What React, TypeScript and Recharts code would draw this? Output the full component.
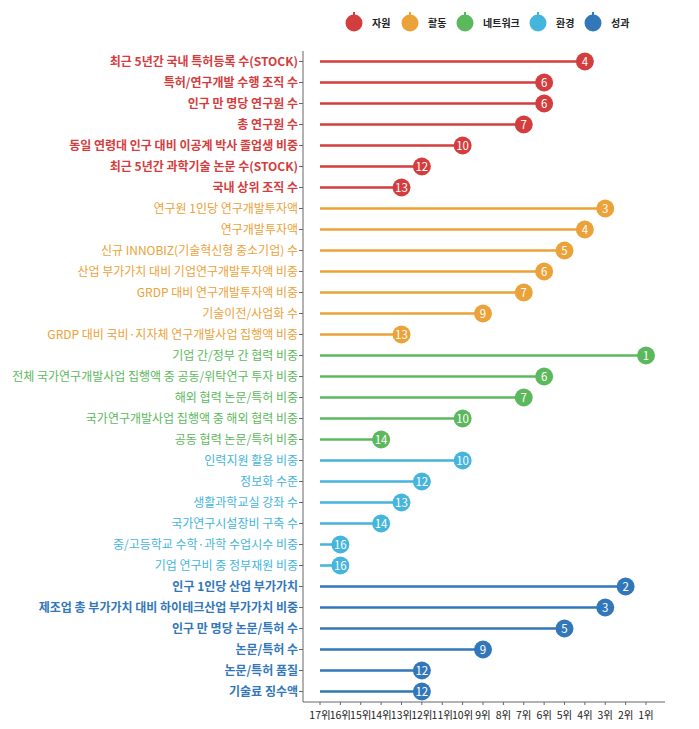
import { Bar, BarChart, XAxis, YAxis } from "recharts";

const FONT = "'Noto Sans CJK KR', 'Noto Sans', sans-serif";

const GROUP_NAMES = ["자원", "활동", "네트워크", "환경", "성과"];
const GROUP_COLORS = ["#d43d3d", "#eba238", "#5cb85c", "#45b5dc", "#3177b9"];
const GROUP_WEIGHTS = [600, 400, 400, 400, 600];

const resourceLabels = [
  "최근 5년간 국내 특허등록 수(STOCK)",
  "특허/연구개발 수행 조직 수",
  "인구 만 명당 연구원 수",
  "총 연구원 수",
  "동일 연령대 인구 대비 이공계 박사 졸업생 비중",
  "최근 5년간 과학기술 논문 수(STOCK)",
  "국내 상위 조직 수",
];
const resourceRanks = [4, 6, 6, 7, 10, 12, 13];

const activityLabels = [
  "연구원 1인당 연구개발투자액",
  "연구개발투자액",
  "신규 INNOBIZ(기술혁신형 중소기업) 수",
  "산업 부가가치 대비 기업연구개발투자액 비중",
  "GRDP 대비 연구개발투자액 비중",
  "기술이전/사업화 수",
  "GRDP 대비 국비·지자체 연구개발사업 집행액 비중",
];
const activityRanks = [3, 4, 5, 6, 7, 9, 13];

const networkLabels = [
  "기업 간/정부 간 협력 비중",
  "전체 국가연구개발사업 집행액 중 공동/위탁연구 투자 비중",
  "해외 협력 논문/특허 비중",
  "국가연구개발사업 집행액 중 해외 협력 비중",
  "공동 협력 논문/특허 비중",
];
const networkRanks = [1, 6, 7, 10, 14];

const environmentLabels = [
  "인력지원 활용 비중",
  "정보화 수준",
  "생활과학교실 강좌 수",
  "국가연구시설장비 구축 수",
  "중/고등학교 수학·과학 수업시수 비중",
  "기업 연구비 중 정부재원 비중",
];
const environmentRanks = [10, 12, 13, 14, 16, 16];

const outcomeLabels = [
  "인구 1인당 산업 부가가치",
  "제조업 총 부가가치 대비 하이테크산업 부가가치 비중",
  "인구 만 명당 논문/특허 수",
  "논문/특허 수",
  "논문/특허 품질",
  "기술료 징수액",
];
const outcomeRanks = [2, 3, 5, 9, 12, 12];

const RANK_TICKS = [17, 16, 15, 14, 13, 12, 11, 10, 9, 8, 7, 6, 5, 4, 3, 2, 1];

const groups = [
  [resourceLabels, resourceRanks],
  [activityLabels, activityRanks],
  [networkLabels, networkRanks],
  [environmentLabels, environmentRanks],
  [outcomeLabels, outcomeRanks],
] as const;

// score = 18 - rank so rank 17 sits at the left and rank 1 at the right
const rows = groups.flatMap(([labels, ranks], g) =>
  labels.map((label, i) => ({ label, rank: ranks[i], score: 18 - ranks[i], group: g })),
);

function CategoryTick(props: any) {
  const { x, y, payload, index } = props;
  const row = rows[index] ?? rows.find((r) => r.label === payload.value);
  const g = row ? row.group : 0;
  return (
    <text
      x={x}
      y={y}
      dy={4}
      textAnchor="end"
      fill={GROUP_COLORS[g]}
      fontSize={12}
      fontWeight={GROUP_WEIGHTS[g]}
      fontFamily={FONT}
    >
      {payload.value}
    </text>
  );
}

function Lollipop(props: any) {
  const { x, y, width, height, payload } = props;
  const color = GROUP_COLORS[payload.group];
  const cy = y + height / 2;
  const end = x + width;
  return (
    <g>
      <line x1={x} y1={cy} x2={end} y2={cy} stroke={color} strokeWidth={2.5} />
      <circle cx={end} cy={cy} r={9} fill={color} />
      <text x={end} y={cy} dy={4} textAnchor="middle" fill="#fff" fontSize={11.5} fontFamily={FONT}>
        {payload.rank}
      </text>
    </g>
  );
}

function LegendPins() {
  const lefts = [345, 401, 456, 529, 584];
  return (
    <div style={{ position: "absolute", top: 4, left: 0, width: 683, height: 20, fontFamily: FONT }}>
      {GROUP_NAMES.map((name, i) => (
        <div
          key={name}
          style={{ position: "absolute", left: lefts[i] - 8, top: 0, display: "flex", alignItems: "center", height: 20 }}
        >
          <svg width={20} height={20}>
            <circle cx={9} cy={11} r={8.5} fill={GROUP_COLORS[i]} />
            <rect x={8} y={0} width={2} height={3} fill={GROUP_COLORS[i]} />
          </svg>
          <span style={{ fontSize: 10, fontWeight: 600, color: "#222", marginLeft: 7 }}>{name}</span>
        </div>
      ))}
    </div>
  );
}

export default function App() {
  return (
    <div style={{ position: "relative", width: 683, height: 713 }}>
      <LegendPins />
      <BarChart
        width={683}
        height={713}
        data={rows}
        layout="vertical"
        margin={{ top: 43, right: 26, bottom: 0, left: 0 }}
        barCategoryGap={0}
      >
        <XAxis
          type="number"
          dataKey="score"
          domain={[1, 17]}
          ticks={RANK_TICKS.map((r) => 18 - r)}
          tickFormatter={(v: number) => `${18 - v}위`}
          padding={{ left: 17, right: 19 }}
          height={19}
          tickSize={3}
          tickMargin={7}
          interval={0}
          stroke="#666"
          tick={{ fill: "#222", fontSize: 10.5, fontFamily: FONT }}
        />
        <YAxis
          type="category"
          dataKey="label"
          width={295}
          interval={0}
          tickSize={4}
          tickMargin={1}
          stroke="#666"
          tick={<CategoryTick />}
        />
        <Bar dataKey="score" barSize={3} shape={<Lollipop />} isAnimationActive={false} />
      </BarChart>
    </div>
  );
}
